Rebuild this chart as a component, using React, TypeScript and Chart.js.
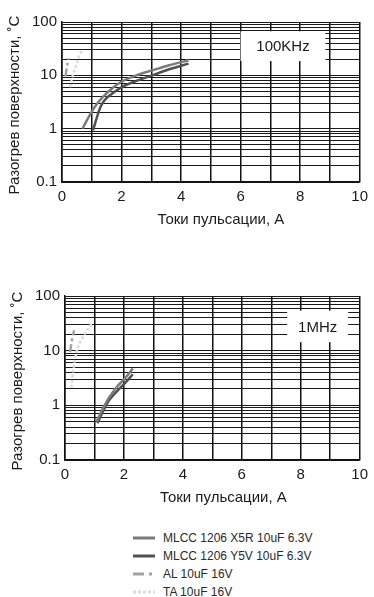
import React, { useEffect, useRef } from 'react';
import { Chart, registerables } from 'chart.js';

Chart.register(...registerables);

const FONT = '"Liberation Sans", Arial, Helvetica, sans-serif';

// ---- axes ----
const X_MIN = 0;
const X_MAX = 10;
const X_STEP = 1;
const X_LABELED = [0, 2, 4, 6, 8, 10];
const Y_MIN = 0.1;
const Y_MAX = 100;
const Y_TICKS = [
  0.1, 0.2, 0.3, 0.4, 0.5, 0.6, 0.7, 0.8, 0.9,
  1, 2, 3, 4, 5, 6, 7, 8, 9,
  10, 20, 30, 40, 50, 60, 70, 80, 90, 100,
];
const Y_LABELED = [0.1, 1, 10, 100];

const X_TITLE = 'Токи пульсации, А';
const Y_TITLE = 'Разогрев поверхности, ˚С';

const SERIES_NAMES = [
  'MLCC 1206 X5R 10uF 6.3V',
  'MLCC 1206 Y5V 10uF 6.3V',
  'AL 10uF 16V',
  'TA 10uF 16V',
];
const SERIES_COLORS = ['#7b7b7b', '#505050', '#a3a3a3', '#dcdcdc'];

// ---- 100KHz: [ripple current A, surface heating °C] ----
const X5R_100K: [number, number][] = [
  [0.69, 1.0], [0.84, 1.45], [0.99, 2.05], [1.17, 2.9], [1.37, 3.9], [1.65, 5.5],
  [1.98, 7.5], [2.5, 10], [3.03, 12.4], [3.6, 15.5], [4.25, 19.2],
];
const Y5V_100K: [number, number][] = [
  [1.04, 0.93], [1.12, 1.3], [1.21, 1.9], [1.3, 2.6], [1.43, 3.4], [1.6, 4.2],
  [1.98, 5.9], [2.5, 7.9], [3.03, 10], [3.6, 13], [4.25, 16.6],
];
const AL_100K: [number, number][] = [[0.12, 9.5], [0.16, 14], [0.22, 21]];
const TA_100K: [number, number][] = [[0.27, 6.0], [0.34, 9], [0.45, 14], [0.55, 21], [0.66, 29]];
const LABEL_100K = '100KHz';

// ---- 1MHz ----
const X5R_1M: [number, number][] = [
  [1.07, 0.5], [1.3, 0.9], [1.5, 1.4], [1.8, 2.3], [2.05, 3.2], [2.3, 4.7],
];
const Y5V_1M: [number, number][] = [
  [1.1, 0.47], [1.3, 0.8], [1.5, 1.25], [1.8, 1.9], [2.05, 2.6], [2.3, 3.7],
];
const AL_1M: [number, number][] = [[0.17, 9.4], [0.24, 16], [0.31, 23.5]];
const TA_1M: [number, number][] = [[0.22, 2.1], [0.28, 4.4], [0.39, 9.4], [0.61, 17.7], [0.9, 31]];
const LABEL_1M = '1MHz';

const toXY = (arr: [number, number][]) => arr.map(([x, y]) => ({ x, y }));

const freqBoxPlugin = {
  id: 'freqBox',
  afterDatasetsDraw(chart: any, _a: any, opts: any) {
    const { ctx, scales } = chart;
    const x = scales.x, y = scales.y;
    const l = x.getPixelForValue(opts.x0);
    const r = x.getPixelForValue(opts.x1);
    const t = y.getPixelForValue(opts.y1);
    const b = y.getPixelForValue(opts.y0);
    ctx.save();
    ctx.fillStyle = '#ffffff';
    ctx.fillRect(l, t, r - l, b - t);
    ctx.fillStyle = '#1a1a1a';
    ctx.font = `15px ${FONT}`;
    ctx.textAlign = 'center';
    ctx.textBaseline = 'middle';
    ctx.fillText(opts.text, (l + r) / 2, (t + b) / 2 + 1);
    ctx.restore();
  },
};

const titlesPlugin = {
  id: 'axisTitles',
  afterDraw(chart: any, _a: any, opts: any) {
    const { ctx, chartArea } = chart;
    ctx.save();
    ctx.fillStyle = '#1a1a1a';
    ctx.font = `15px ${FONT}`;
    ctx.textAlign = 'center';
    ctx.textBaseline = 'middle';
    ctx.fillText(opts.xText, (chartArea.left + chartArea.right) / 2 + opts.xDx, opts.xY);
    ctx.translate(opts.yX, (chartArea.top + chartArea.bottom) / 2 + opts.yDy);
    ctx.rotate(-Math.PI / 2);
    ctx.fillText(opts.yText, 0, 0);
    ctx.restore();
  },
};

type Layout = {
  left: number; right: number; top: number; bottom: number; height: number;
  xTitleY: number; xTitleDx: number; yTitleX: number; yTitleDy: number;
  box: { x0: number; x1: number; y0: number; y1: number; text: string };
};

function makeConfig(series: [number, number][][], L: Layout): any {
  const dash = [[], [], [8, 3, 3, 3], [3, 2]];
  return {
    type: 'line',
    data: {
      datasets: series.map((s, i) => ({
        label: SERIES_NAMES[i],
        data: toXY(s),
        borderColor: SERIES_COLORS[i],
        borderWidth: 2.5,
        borderDash: dash[i],
        pointRadius: 0,
        fill: false,
        cubicInterpolationMode: 'monotone',
      })),
    },
    options: {
      responsive: false,
      animation: false,
      events: [],
      layout: { padding: { left: 0, top: L.top, right: 374 - L.right, bottom: 0 } },
      plugins: {
        legend: { display: false },
        tooltip: { enabled: false },
        freqBox: L.box,
        axisTitles: {
          xText: X_TITLE, xY: L.xTitleY, xDx: L.xTitleDx,
          yText: Y_TITLE, yX: L.yTitleX, yDy: L.yTitleDy,
        },
      },
      scales: {
        x: {
          type: 'linear',
          min: X_MIN,
          max: X_MAX,
          afterFit: (s: any) => { s.height = L.height - L.bottom; },
          ticks: {
            stepSize: X_STEP,
            autoSkip: false,
            maxRotation: 0,
            padding: 6,
            color: '#1a1a1a',
            font: { family: FONT, size: 15 },
            callback: (v: number) => (X_LABELED.includes(v) ? String(v) : ''),
          },
          grid: { color: '#111', lineWidth: 1.5, drawTicks: false },
          border: { color: '#111', width: 1.5 },
        },
        y: {
          type: 'logarithmic',
          min: Y_MIN,
          max: Y_MAX,
          afterFit: (s: any) => { s.width = L.left; },
          afterBuildTicks: (s: any) => { s.ticks = Y_TICKS.map((v) => ({ value: v })); },
          ticks: {
            autoSkip: false,
            padding: 5,
            color: '#1a1a1a',
            font: { family: FONT, size: 15 },
            callback: (v: number) => (Y_LABELED.includes(v) ? String(v) : ''),
          },
          grid: { color: '#1a1a1a', lineWidth: 1, drawTicks: false },
          border: { color: '#111', width: 1.5 },
        },
      },
    },
    plugins: [freqBoxPlugin, titlesPlugin],
  };
}

const TOP_LAYOUT: Layout = {
  left: 62, right: 363, top: 22, bottom: 182, height: 240,
  xTitleY: 220, xTitleDx: 10, yTitleX: 15, yTitleDy: 3,
  box: { x0: 6.0, x1: 8.85, y0: 18.5, y1: 67, text: LABEL_100K },
};
const BOTTOM_LAYOUT: Layout = {
  left: 65, right: 363, top: 22, bottom: 186, height: 240,
  xTitleY: 224, xTitleDx: 11, yTitleX: 18, yTitleDy: 3,
  box: { x0: 7.54, x1: 9.61, y0: 14.3, y1: 54, text: LABEL_1M },
};

function ChartCanvas({ series, layout, top }: { series: [number, number][][]; layout: Layout; top: number }) {
  const ref = useRef<HTMLCanvasElement | null>(null);
  useEffect(() => {
    if (!ref.current) return;
    const chart = new Chart(ref.current, makeConfig(series, layout));
    return () => chart.destroy();
  }, []);
  return (
    <canvas
      ref={ref}
      width={374}
      height={layout.height}
      style={{ position: 'absolute', left: 0, top, width: 374, height: layout.height, display: 'block' }}
    />
  );
}

function LegendSample({ i }: { i: number }) {
  const dashes = ['', '', '11 5 3 5', '3 2'];
  return (
    <svg width={22} height={6} style={{ display: 'block' }}>
      <line x1={0} y1={3} x2={22} y2={3} stroke={SERIES_COLORS[i]} strokeWidth={3} strokeDasharray={dashes[i] || undefined} />
    </svg>
  );
}

export default function App() {
  return (
    <div style={{ position: 'absolute', left: 0, top: 0, width: 374, height: 597, background: '#fff', overflow: 'hidden' }}>
      <ChartCanvas series={[X5R_100K, Y5V_100K, AL_100K, TA_100K]} layout={TOP_LAYOUT} top={0} />
      <ChartCanvas series={[X5R_1M, Y5V_1M, AL_1M, TA_1M]} layout={BOTTOM_LAYOUT} top={274} />
      <div style={{ position: 'absolute', left: 133, top: 529, fontFamily: FONT, fontSize: 12, color: '#2a2a2a' }}>
        {SERIES_NAMES.map((name, i) => (
          <div key={name} style={{ display: 'flex', alignItems: 'center', height: 18 }}>
            <div style={{ width: 30 }}><LegendSample i={i} /></div>
            <span style={{ whiteSpace: 'nowrap' }}>{name}</span>
          </div>
        ))}
      </div>
    </div>
  );
}
